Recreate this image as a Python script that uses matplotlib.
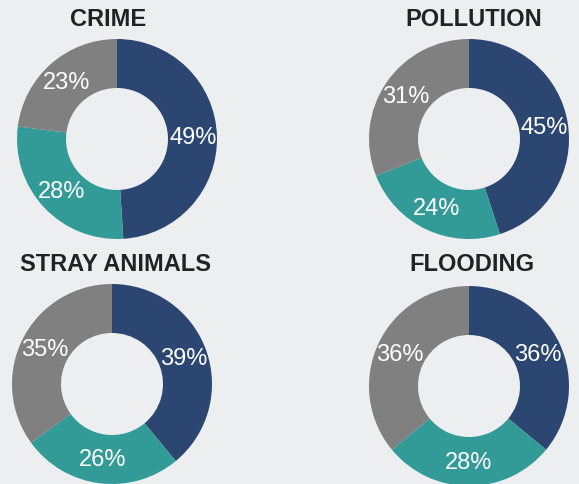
import matplotlib
matplotlib.use("Agg")
import matplotlib.pyplot as plt

plt.rcParams['font.family'] = ['Liberation Sans', 'DejaVu Sans']

# data
titles = ["CRIME", "POLLUTION", "STRAY ANIMALS", "FLOODING"]
crime = [49, 28, 23]
pollution = [45, 24, 31]
stray_animals = [39, 26, 35]
flooding = [36, 28, 36]
series = [crime, pollution, stray_animals, flooding]

colors = ["#2b4670", "#329b98", "#808080"]
bg = "#eceef0"

W, H = 579, 485
fig = plt.figure(figsize=(W / 100, H / 100), dpi=100, facecolor=bg)

# pie centres and title positions in pixels (from top-left)
centres = [(117, 140), (469, 140), (112, 385), (469, 387)]
title_pos = [(108, 20), (474, 20), (115, 265), (472, 265)]
R = 100

for vals, title, (cx, cy), (tx, ty) in zip(series, titles, centres, title_pos):
    ax = fig.add_axes([(cx - R) / W, (H - cy - R) / H, 2 * R / W, 2 * R / H])
    ax.pie(vals, colors=colors, startangle=90, counterclock=False,
           autopct=lambda p: "%d%%" % round(p), pctdistance=0.76,
           wedgeprops=dict(width=0.49, linewidth=0),
           textprops=dict(color="white", fontsize=17))
    ax.set_xlim(-1, 1)
    ax.set_ylim(-1, 1)
    ax.set_facecolor(bg)
    fig.text(tx / W, 1 - ty / H, title, ha="center", va="center",
             fontsize=17, fontweight="bold", color="#222222")

fig.savefig("out.png", dpi=100, facecolor=bg)
